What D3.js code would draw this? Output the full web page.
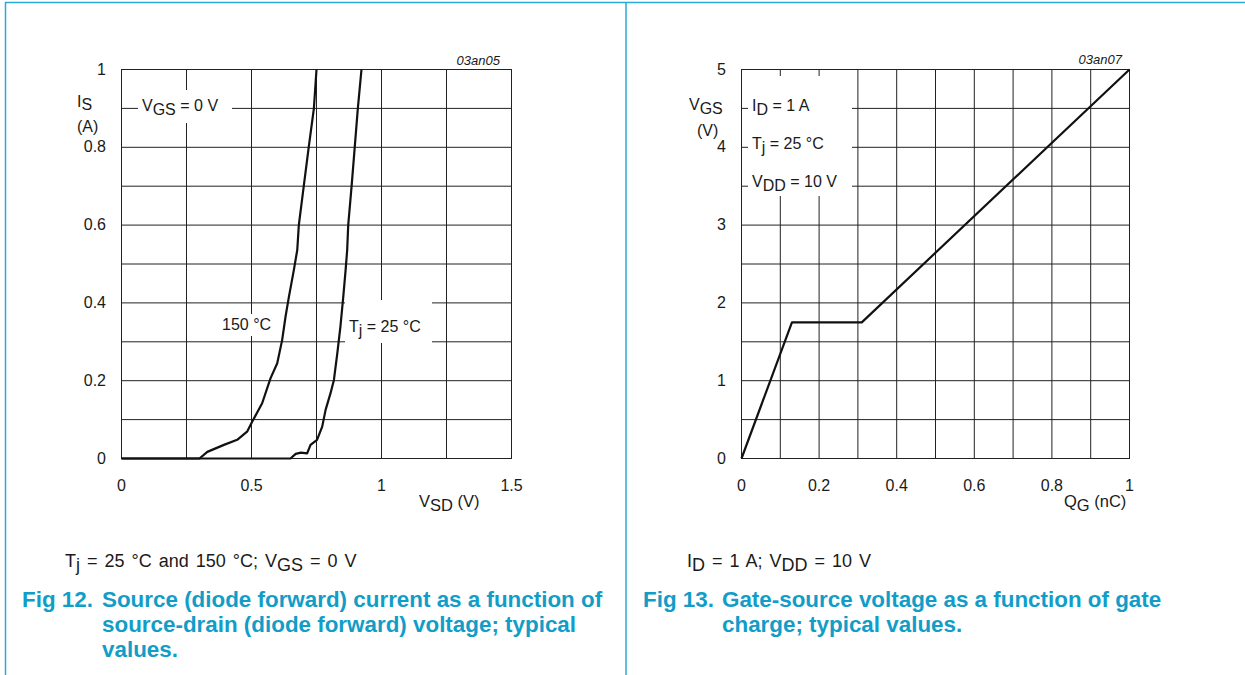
<!DOCTYPE html>
<html lang="en">
<head>
    <meta charset="UTF-8">
    <script src="https://cdn.jsdelivr.net/npm/d3@7"></script>
    <title>Fig 12 / Fig 13</title>
    <style>
        body { margin: 0; background: #fff; }
        svg text { font-family: "Liberation Sans", Arial, sans-serif; fill: #1a1a1a; }
        .grid .tick line { stroke: #222; stroke-width: 1; }
        .grid .domain { display: none; }
        .caption text { fill: #119dc8; font-weight: bold; }
    </style>
</head>
<body>
<svg id="chart" width="1245" height="675"></svg>
<script>
    // Fig 12 - source current vs source-drain voltage
    const curve25 = [
        [0, 0], [0.65, 0], [0.67, 0.012], [0.69, 0.015], [0.714, 0.013], [0.727, 0.035],
        [0.752, 0.048], [0.772, 0.082], [0.785, 0.125], [0.804, 0.168], [0.817, 0.202],
        [0.83, 0.27], [0.842, 0.339], [0.853, 0.416], [0.862, 0.485], [0.868, 0.536],
        [0.872, 0.6], [0.885, 0.7], [0.897, 0.8], [0.909, 0.9], [0.923, 1.0]
    ];
    const curve150 = [
        [0, 0], [0.30, 0], [0.33, 0.017], [0.362, 0.026], [0.394, 0.035], [0.445, 0.048],
        [0.483, 0.069], [0.503, 0.095], [0.541, 0.142], [0.573, 0.206], [0.599, 0.245],
        [0.618, 0.305], [0.631, 0.365], [0.644, 0.416], [0.663, 0.485], [0.676, 0.536],
        [0.682, 0.6], [0.701, 0.7], [0.72, 0.8], [0.74, 0.9], [0.75, 1.0]
    ];
    const fig12GridX = [0, 0.25, 0.5, 0.75, 1, 1.25, 1.5];
    const fig12GridY = [0, 0.1, 0.2, 0.3, 0.4, 0.5, 0.6, 0.7, 0.8, 0.9, 1];
    const fig12TickX = [0, 0.5, 1, 1.5];
    const fig12TickY = [0, 0.2, 0.4, 0.6, 0.8, 1];

    // Fig 13 - gate-source voltage vs gate charge
    const qgValues = [0, 0.13, 0.31, 1.0];
    const vgsValues = [0, 1.75, 1.75, 5.0];
    const fig13GridX = [0, 0.1, 0.2, 0.3, 0.4, 0.5, 0.6, 0.7, 0.8, 0.9, 1];
    const fig13GridY = [0, 0.5, 1, 1.5, 2, 2.5, 3, 3.5, 4, 4.5, 5];
    const fig13TickX = [0, 0.2, 0.4, 0.6, 0.8, 1];
    const fig13TickY = [0, 1, 2, 3, 4, 5];

    const svg = d3.select("#chart");
    const fs = 16;

    // text with alternating normal / subscript pieces
    const rich = (g, x, y, parts, size, shift = 4) => {
        const t = g.append("text").attr("x", x).attr("y", y).attr("font-size", size);
        let cur = 0;
        parts.forEach((s, i) => {
            const next = i % 2 === 1 ? shift : 0;
            t.append("tspan").attr("dy", next - cur).text(s);
            cur = next;
        });
        return t;
    };

    const drawGrid = (x, y, gridX, gridY, tickX, tickY) => {
        const w = x.range()[1] - x.range()[0];
        const h = y.range()[0] - y.range()[1];
        svg.append("g").attr("class", "grid")
            .attr("transform", `translate(0,${y.range()[0]})`)
            .call(d3.axisBottom(x).tickValues(gridX).tickSize(-h).tickPadding(22)
                .tickFormat(d => tickX.includes(d) ? d : ""))
            .selectAll("text").attr("font-size", fs).attr("fill", "#1a1a1a");
        svg.append("g").attr("class", "grid")
            .attr("transform", `translate(${x.range()[0]},0)`)
            .call(d3.axisLeft(y).tickValues(gridY).tickSize(-w).tickPadding(15)
                .tickFormat(d => tickY.includes(d) ? d : ""))
            .selectAll("text").attr("font-size", fs).attr("fill", "#1a1a1a");
        svg.append("rect")
            .attr("x", x.range()[0] + 0.5).attr("y", y.range()[1] + 0.5)
            .attr("width", w).attr("height", h)
            .attr("fill", "none").attr("stroke", "#222");
    };

    const blank = (x0, y0, x1, y1) => svg.append("rect")
        .attr("x", x0).attr("y", y0).attr("width", x1 - x0).attr("height", y1 - y0)
        .attr("fill", "#fff");

    /*--- Fig 12 ---*/
    const x12 = d3.scaleLinear().domain([0, 1.5]).range([121, 511]);
    const y12 = d3.scaleLinear().domain([0, 1]).range([458, 69]);
    drawGrid(x12, y12, fig12GridX, fig12GridY, fig12TickX, fig12TickY);

    blank(138, 90, 232, 123);
    rich(svg, 142, 110.5, ["V", "GS", " = 0 V"], fs);
    blank(220, 314, 276, 336);
    rich(svg, 222, 329.5, ["150 °C"], fs);
    blank(345, 300, 432, 343);
    rich(svg, 349, 331.5, ["T", "j", " = 25 °C"], fs);

    const line12 = d3.line().x(d => x12(d[0]) + 0.5).y(d => y12(d[1]) + 0.5);
    [curve150, curve25].forEach(c => svg.append("path").datum(c)
        .attr("d", line12).attr("fill", "none")
        .attr("stroke", "#111").attr("stroke-width", 2.2).attr("stroke-linejoin", "round"));

    rich(svg, 77, 106.5, ["I", "S"], fs, 3);
    rich(svg, 77, 131.5, ["(A)"], fs);
    rich(svg, 419, 507, ["V", "SD", " (V)"], fs + 0.5);
    svg.append("text").attr("x", 500).attr("y", 65).attr("text-anchor", "end")
        .attr("font-size", 13).attr("font-style", "italic").attr("fill", "#333").text("03an05");

    /*--- Fig 13 ---*/
    const x13 = d3.scaleLinear().domain([0, 1]).range([741, 1129]);
    const y13 = d3.scaleLinear().domain([0, 5]).range([458, 69]);
    drawGrid(x13, y13, fig13GridX, fig13GridY, fig13TickX, fig13TickY);

    blank(748, 76, 852, 196);
    rich(svg, 752, 110.5, ["I", "D", " = 1 A"], fs);
    rich(svg, 752, 148.5, ["T", "j", " = 25 °C"], fs);
    rich(svg, 752, 187, ["V", "DD", " = 10 V"], fs);

    const line13 = d3.line().x(d => x13(d[0]) + 0.5).y(d => y13(d[1]) + 0.5);
    svg.append("path").datum(qgValues.map((q, i) => [q, vgsValues[i]]))
        .attr("d", line13).attr("fill", "none")
        .attr("stroke", "#111").attr("stroke-width", 2.2).attr("stroke-linejoin", "round");

    rich(svg, 689, 110, ["V", "GS"], fs);
    rich(svg, 697, 136, ["(V)"], fs);
    rich(svg, 1064, 507, ["Q", "G", " (nC)"], fs + 0.5);
    svg.append("text").attr("x", 1122).attr("y", 64).attr("text-anchor", "end")
        .attr("font-size", 13).attr("font-style", "italic").attr("fill", "#333").text("03an07");

    /*--- Captions ---*/
    rich(svg, 65, 567, ["T", "j", " = 25 °C and 150 °C; V", "GS", " = 0 V"], 18)
        .attr("word-spacing", 2);
    rich(svg, 687, 567, ["I", "D", " = 1 A; V", "DD", " = 10 V"], 18)
        .attr("word-spacing", 2);

    const cap = svg.append("g").attr("class", "caption").attr("font-size", 22.4);
    cap.append("text").attr("x", 22).attr("y", 606.5).text("Fig 12.");
    cap.append("text").attr("x", 102).attr("y", 606.5).text("Source (diode forward) current as a function of");
    cap.append("text").attr("x", 102).attr("y", 631.5).text("source-drain (diode forward) voltage; typical");
    cap.append("text").attr("x", 102).attr("y", 656.5).text("values.");
    cap.append("text").attr("x", 643).attr("y", 606.5).text("Fig 13.");
    cap.append("text").attr("x", 722).attr("y", 606.5).text("Gate-source voltage as a function of gate");
    cap.append("text").attr("x", 722).attr("y", 631.5).text("charge; typical values.");

    /*--- Page frame ---*/
    const frame = svg.append("g").attr("stroke", "#2aaad6").attr("stroke-width", 1.5);
    frame.append("line").attr("x1", 5).attr("y1", 2.5).attr("x2", 1245).attr("y2", 2.5);
    frame.append("line").attr("x1", 5.5).attr("y1", 2).attr("x2", 5.5).attr("y2", 675);
    frame.append("line").attr("x1", 626).attr("y1", 2).attr("x2", 626).attr("y2", 675);
</script>
</body>
</html>
